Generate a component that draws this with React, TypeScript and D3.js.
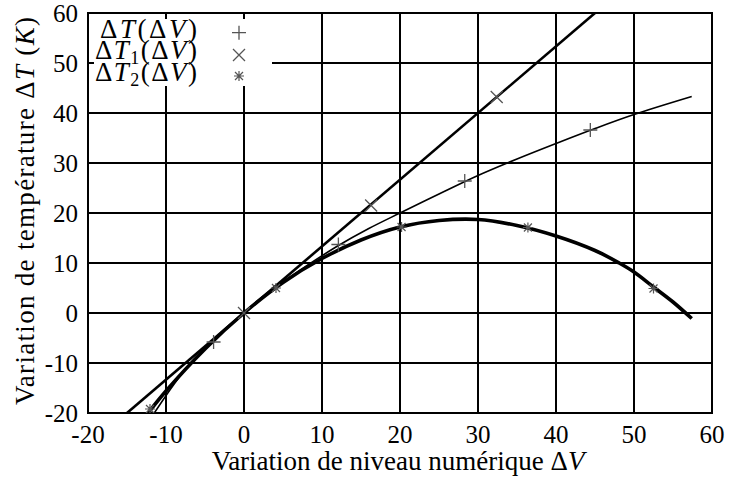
import React from 'react';
import * as d3 from 'd3';

const xTicks = [-20, -10, 0, 10, 20, 30, 40, 50, 60];
const yTicks = [-20, -10, 0, 10, 20, 30, 40, 50, 60];

// ΔT1(ΔV): straight thick line
const lineT1X = [-15, 45];
const lineT1Y = [-20, 60];

// ΔT(ΔV): thin curve
const curveTX = [-11.5, -9, -7, -4, 0, 4, 8, 12, 16, 20, 25, 30, 35, 40, 45, 50, 57.4];
const curveTY = [-20, -14.3, -10.3, -5.7, 0, 5.0, 9.4, 13.4, 16.9, 20, 23.8, 27.5, 30.8, 33.9, 36.9, 39.7, 43.3];

// ΔT2(ΔV): thick curve
const curveT2X = [-12.3, -10, -5, 0, 5, 10, 15, 20, 25, 30, 35, 40, 45, 48.1, 50, 52.5, 55, 57.4];
const curveT2Y = [-20, -15.6, -7.2, 0, 6.1, 10.9, 14.6, 17.2, 18.5, 18.7, 17.5, 15.4, 12.5, 10, 8.2, 5.2, 2.2, -1.1];

// sample markers
const markTX = [-3.9, 12.1, 28.3, 44.4];
const markTY = [-5.8, 13.7, 26.4, 36.6];
const markT1X = [0, 16.3, 32.4];
const markT1Y = [0, 21.5, 43.2];
const markT2X = [-12.05, 4.1, 20.2, 36.4, 52.5];
const markT2Y = [-19.2, 5.0, 17.2, 17.1, 4.9];

const W = 730, H = 482;
const L = 88, R = 712, T = 13, B = 413;
const FONT = "Liberation Serif";
const MARK = '#555';

const x = d3.scaleLinear().domain([-20, 60]).range([L, R]);
const y = d3.scaleLinear().domain([-20, 60]).range([B, T]);

const zip = (xs: number[], ys: number[]) => xs.map((v, i) => [v, ys[i]] as [number, number]);
const lineGen = d3.line<[number, number]>().x(d => x(d[0])).y(d => y(d[1]));
const smoothGen = d3.line<[number, number]>().x(d => x(d[0])).y(d => y(d[1])).curve(d3.curveCatmullRom.alpha(0.5));

function Plus({ cx, cy, s = 7 }: { cx: number; cy: number; s?: number }) {
  return <path d={`M${cx - s},${cy}H${cx + s}M${cx},${cy - s}V${cy + s}`} stroke={MARK} strokeWidth={1.3} fill="none" />;
}
function Cross({ cx, cy, s = 6 }: { cx: number; cy: number; s?: number }) {
  return <path d={`M${cx - s},${cy - s}L${cx + s},${cy + s}M${cx - s},${cy + s}L${cx + s},${cy - s}`} stroke={MARK} strokeWidth={1.3} fill="none" />;
}
function Star({ cx, cy, s = 5 }: { cx: number; cy: number; s?: number }) {
  const d = s * 0.8;
  return <path d={`M${cx - s},${cy}H${cx + s}M${cx},${cy - s}V${cy + s}M${cx - d},${cy - d}L${cx + d},${cy + d}M${cx - d},${cy + d}L${cx + d},${cy - d}`} stroke={MARK} strokeWidth={1.2} fill="none" />;
}

export default function App() {
  const fs = 25;
  const lf = 27;
  return (
    <svg width={W} height={H} style={{ position: 'absolute', left: 0, top: 0, background: '#fff' }}>
      <defs>
        <clipPath id="plot"><rect x={L} y={T} width={R - L} height={B - T} /></clipPath>
      </defs>
      <rect x={0} y={0} width={W} height={H} fill="#fff" />
      {/* grid */}
      {xTicks.map(t => <line key={'gx' + t} x1={x(t)} x2={x(t)} y1={T} y2={B} stroke="#000" strokeWidth={2} />)}
      {yTicks.map(t => <line key={'gy' + t} x1={L} x2={R} y1={y(t)} y2={y(t)} stroke="#000" strokeWidth={2} />)}
      {/* legend box */}
      <rect x={L + 1} y={T + 1} width={272 - L - 1} height={86 - T - 1} fill="#fff" />
      {/* tick marks */}
      {xTicks.map(t => <g key={'tx' + t}>
        <line x1={x(t)} x2={x(t)} y1={T} y2={T + 6} stroke="#000" strokeWidth={2} />
        <line x1={x(t)} x2={x(t)} y1={B} y2={B - 6} stroke="#000" strokeWidth={2} />
      </g>)}
      {yTicks.map(t => <g key={'ty' + t}>
        <line x1={L} x2={L + 6} y1={y(t)} y2={y(t)} stroke="#000" strokeWidth={2} />
        <line x1={R} x2={R - 6} y1={y(t)} y2={y(t)} stroke="#000" strokeWidth={2} />
      </g>)}
      <rect x={L} y={T} width={R - L} height={B - T} fill="none" stroke="#000" strokeWidth={2} />
      {/* tick labels */}
      {xTicks.map(t => <text key={'lx' + t} fontFamily={FONT} x={x(t)} y={443} fontSize={fs} textAnchor="middle">{t}</text>)}
      {yTicks.map(t => <text key={'ly' + t} fontFamily={FONT} x={78} y={y(t) + 8.5} fontSize={fs} textAnchor="end">{t}</text>)}
      {/* axis titles */}
      <text fontFamily={FONT} x={398} y={470} fontSize={27} textAnchor="middle">Variation de niveau numérique Δ<tspan fontStyle="italic">V</tspan></text>
      <text fontFamily={FONT} transform={`translate(34,405) rotate(-90)`} fontSize={27} textLength={388}>Variation de température Δ<tspan fontStyle="italic">T</tspan> (<tspan fontStyle="italic">K</tspan>)</text>
      {/* curves */}
      <g clipPath="url(#plot)">
        <path d={lineGen(zip(lineT1X, lineT1Y)) || ''} stroke="#000" strokeWidth={2.6} fill="none" />
        <path d={smoothGen(zip(curveTX, curveTY)) || ''} stroke="#000" strokeWidth={1.6} fill="none" />
        <path d={smoothGen(zip(curveT2X, curveT2Y)) || ''} stroke="#000" strokeWidth={3.6} fill="none" />
        {zip(markTX, markTY).map((p, i) => <Plus key={'mp' + i} cx={x(p[0])} cy={y(p[1])} />)}
        {zip(markT1X, markT1Y).map((p, i) => <Cross key={'mc' + i} cx={x(p[0])} cy={y(p[1])} />)}
        {zip(markT2X, markT2Y).map((p, i) => <Star key={'ms' + i} cx={x(p[0])} cy={y(p[1])} />)}
      </g>
      {/* legend */}
      <text fontFamily={FONT} x={100} y={37.5} fontSize={lf} textLength={97}>Δ<tspan fontStyle="italic">T</tspan>(Δ<tspan fontStyle="italic">V</tspan>)</text>
      <text fontFamily={FONT} x={95} y={59} fontSize={lf} textLength={102}>Δ<tspan fontStyle="italic">T</tspan><tspan fontSize={18} dy={5}>1</tspan><tspan dy={-5}>(Δ</tspan><tspan fontStyle="italic">V</tspan>)</text>
      <text fontFamily={FONT} x={95} y={80.5} fontSize={lf} textLength={102}>Δ<tspan fontStyle="italic">T</tspan><tspan fontSize={18} dy={5}>2</tspan><tspan dy={-5}>(Δ</tspan><tspan fontStyle="italic">V</tspan>)</text>
      <Plus cx={239} cy={32.7} />
      <Cross cx={239} cy={55} />
      <Star cx={239} cy={76} />
    </svg>
  );
}
